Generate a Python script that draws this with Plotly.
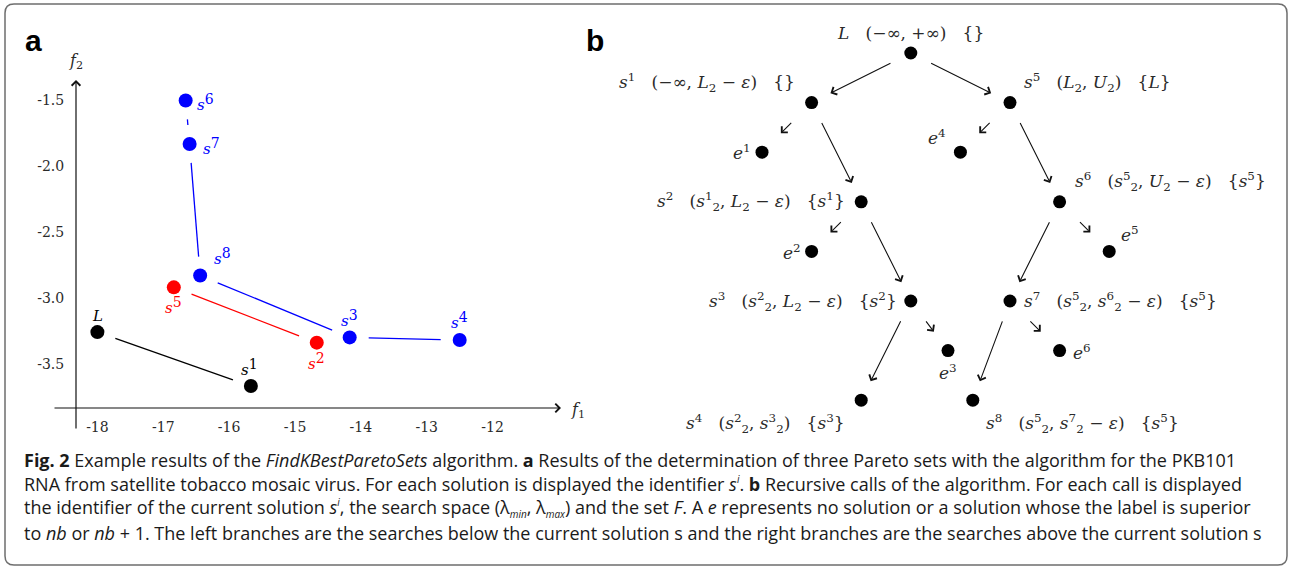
import plotly.graph_objects as go

W, H = 1289, 568

# ---------------- Panel a data ----------------
black_ids = ["L", "1"]
black_f1 = [-18.0, -15.67]
black_f2 = [-3.26, -3.67]
red_ids = ["5", "2"]
red_f1 = [-16.84, -14.67]
red_f2 = [-2.92, -3.34]
blue_ids = ["6", "7", "8", "3", "4"]
blue_f1 = [-16.66, -16.60, -16.44, -14.17, -12.50]
blue_f2 = [-1.50, -1.83, -2.83, -3.30, -3.32]

x_ticks = [-18, -17, -16, -15, -14, -13, -12]
x_tick_text = ["-18", "-17", "-16", "-15", "-14", "-13", "-12"]
y_ticks = [-1.5, -2.0, -2.5, -3.0, -3.5]
y_tick_text = ["-1.5", "-2.0", "-2.5", "-3.0", "-3.5"]

# ---------------- Panel b data (tree) ----------------
tree_ids = ["L", "s1", "s5", "e1", "e4", "s2", "s6", "e2", "e5", "s3", "s7", "e3", "e6", "s4", "s8"]
tree_col = [3, 1, 5, 0, 4, 2, 6, 1, 7, 3, 5, 3.75, 6, 2, 4.25]
tree_row = [0, 1, 1, 2, 2, 3, 3, 4, 4, 5, 5, 6, 6, 7, 7]
tree_edges = [("L", "s1"), ("L", "s5"), ("s1", "e1"), ("s1", "s2"), ("s5", "e4"), ("s5", "s6"),
              ("s2", "e2"), ("s2", "s3"), ("s6", "s7"), ("s6", "e5"), ("s3", "s4"), ("s3", "e3"),
              ("s7", "s8"), ("s7", "e6")]
NB = "\u00a0"
S = NB * 3
tree_text = {
    "L": f"<i>L</i>{S}(−∞,{NB}+∞){S}{{}}",
    "s1": f"<i>s</i><sup>1</sup>{S}(−∞,{NB}<i>L</i><sub>2</sub>{NB}−{NB}<i>ε</i>){S}{{}}",
    "s5": f"<i>s</i><sup>5</sup>{S}(<i>L</i><sub>2</sub>,{NB}<i>U</i><sub>2</sub>){S}{{<i>L</i>}}",
    "e1": "<i>e</i><sup>1</sup>",
    "e4": "<i>e</i><sup>4</sup>",
    "s2": f"<i>s</i><sup>2</sup>{S}(<i>s</i><sup>1</sup><sub>2</sub>,{NB}<i>L</i><sub>2</sub>{NB}−{NB}<i>ε</i>){S}{{<i>s</i><sup>1</sup>}}",
    "s6": f"<i>s</i><sup>6</sup>{S}(<i>s</i><sup>5</sup><sub>2</sub>,{NB}<i>U</i><sub>2</sub>{NB}−{NB}<i>ε</i>){S}{{<i>s</i><sup>5</sup>}}",
    "e2": "<i>e</i><sup>2</sup>",
    "e5": "<i>e</i><sup>5</sup>",
    "s3": f"<i>s</i><sup>3</sup>{S}(<i>s</i><sup>2</sup><sub>2</sub>,{NB}<i>L</i><sub>2</sub>{NB}−{NB}<i>ε</i>){S}{{<i>s</i><sup>2</sup>}}",
    "s7": f"<i>s</i><sup>7</sup>{S}(<i>s</i><sup>5</sup><sub>2</sub>,{NB}<i>s</i><sup>6</sup><sub>2</sub>{NB}−{NB}<i>ε</i>){S}{{<i>s</i><sup>5</sup>}}",
    "e3": "<i>e</i><sup>3</sup>",
    "e6": "<i>e</i><sup>6</sup>",
    "s4": f"<i>s</i><sup>4</sup>{S}(<i>s</i><sup>2</sup><sub>2</sub>,{NB}<i>s</i><sup>3</sup><sub>2</sub>){S}{{<i>s</i><sup>3</sup>}}",
    "s8": f"<i>s</i><sup>8</sup>{S}(<i>s</i><sup>5</sup><sub>2</sub>,{NB}<i>s</i><sup>7</sup><sub>2</sub>{NB}−{NB}<i>ε</i>){S}{{<i>s</i><sup>5</sup>}}",
}

SUPI = "<sup><span style='font-size:10px'><i>i</i></span></sup>"
def small_sub(t):
    return f"<sub><span style='font-size:10px'><i>{t}</i></span></sub>"

caption_lines = [
    "<b>Fig. 2</b> Example results of the <i>FindKBestParetoSets</i> algorithm. <b>a</b> Results of the determination of three Pareto sets with the algorithm for the PKB101",
    f"RNA from satellite tobacco mosaic virus. For each solution is displayed the identifier <i>s</i>{SUPI}. <b>b</b> Recursive calls of the algorithm. For each call is displayed",
    f"the identifier of the current solution <i>s</i>{SUPI}, the search space (λ{small_sub('min')}, λ{small_sub('max')}) and the set <i>F</i>. A <i>e</i> represents no solution or a solution whose the label is superior",
    "to <i>nb</i> or <i>nb</i> + 1. The left branches are the searches below the current solution s and the right branches are the searches above the current solution s",
]

# ---------------- styles / geometry ----------------
SERIF = "DejaVu Serif"
TXT = "#2a2a2a"
BLUE, RED, BLACK = "#0000ff", "#ff0000", "#000000"

# panel a pixel calibration
PX0, PXU = 97.4, 65.87     # px of f1=-18, px per unit
PY0, PYU = 100.5, 131.6    # py of f2=-1.5, px per unit
A_DOM_X = (10, 600)
A_DOM_Y = (20, 445)

def fx(px):
    return -18 + (px - PX0) / PXU

def fy(py):
    return -1.5 - (py - PY0) / PYU

# panel b pixel calibration
BX0, BY0, BU = 762.0, 53.0, 49.6
B_DOM_X = (600, 1285)
B_DOM_Y = (15, 445)

fig = go.Figure()

# --- panel a: connecting lines (shortened near markers) ---
GAP = 19.0
def add_chain(f1, f2, color):
    for i in range(len(f1) - 1):
        x0, y0, x1, y1 = f1[i], f2[i], f1[i + 1], f2[i + 1]
        dxp, dyp = (x1 - x0) * PXU, (y1 - y0) * PYU
        L = (dxp ** 2 + dyp ** 2) ** 0.5
        t0, t1 = GAP / L, 1 - GAP / L
        fig.add_trace(go.Scatter(
            x=[x0 + t0 * (x1 - x0), x0 + t1 * (x1 - x0)],
            y=[y0 + t0 * (y1 - y0), y0 + t1 * (y1 - y0)],
            mode="lines", line=dict(color=color, width=1.3),
            xaxis="x", yaxis="y", hoverinfo="skip", showlegend=False))

add_chain(black_f1, black_f2, BLACK)
add_chain(red_f1, red_f2, RED)
add_chain(blue_f1, blue_f2, BLUE)

for f1, f2, c in [(black_f1, black_f2, BLACK), (red_f1, red_f2, RED), (blue_f1, blue_f2, BLUE)]:
    fig.add_trace(go.Scatter(x=f1, y=f2, mode="markers",
                             marker=dict(color=c, size=14, line=dict(width=0)),
                             xaxis="x", yaxis="y", showlegend=False))

annotations = []

# point labels for panel a
label_place = {
    "L": ("center", 0, 16), "1": ("center", -1, 19),
    "5": ("center", 0, -18), "2": ("center", 0, -19),
    "6": ("left", 9, -2), "7": ("left", 11, -3), "8": ("left", 12, 19),
    "3": ("center", 0, 19), "4": ("center", 0, 20),
}
for ids, f1, f2, c in [(black_ids, black_f1, black_f2, BLACK), (red_ids, red_f1, red_f2, RED),
                       (blue_ids, blue_f1, blue_f2, BLUE)]:
    for k, xv, yv in zip(ids, f1, f2):
        xa, xs, ys = label_place[k]
        if k == "L":
            txt = "<i>L</i>"
        else:
            txt = f"<i>s</i><sup><span style='font-size:14px'>{k}</span></sup>"
        annotations.append(dict(x=xv, y=yv, xref="x", yref="y", text=txt, showarrow=False,
                                xanchor=xa, yanchor="middle", xshift=xs, yshift=ys,
                                font=dict(family=SERIF, size=15, color=c)))

# axis arrows for panel a
annotations.append(dict(x=fx(76), y=fy(80), ax=fx(76), ay=fy(430), xref="x", yref="y",
                        axref="x", ayref="y", text="", showarrow=True, arrowhead=4,
                        arrowsize=1.4, arrowwidth=1.2, arrowcolor="#111"))
annotations.append(dict(x=fx(561), y=fy(408), ax=fx(53), ay=fy(408), xref="x", yref="y",
                        axref="x", ayref="y", text="", showarrow=True, arrowhead=4,
                        arrowsize=1.4, arrowwidth=1.2, arrowcolor="#111"))
annotations.append(dict(x=fx(76), y=fy(62), xref="x", yref="y", showarrow=False,
                        xanchor="center", yanchor="middle",
                        text="<i>f</i><sub>2</sub>", font=dict(family=SERIF, size=16, color=TXT)))
annotations.append(dict(x=fx(578), y=fy(410), xref="x", yref="y", showarrow=False,
                        xanchor="center", yanchor="middle",
                        text="<i>f</i><sub>1</sub>", font=dict(family=SERIF, size=16, color=TXT)))

# --- panel b: tree nodes ---
fig.add_trace(go.Scatter(x=tree_col, y=tree_row, mode="markers",
                         marker=dict(color=BLACK, size=13, line=dict(width=0)),
                         xaxis="x2", yaxis="y2", showlegend=False))

pos = {k: (c, r) for k, c, r in zip(tree_ids, tree_col, tree_row)}
for p, ch in tree_edges:
    (x0, y0), (x1, y1) = pos[p], pos[ch]
    t0, t1 = (0.38, 0.62) if ch.startswith("e") else (0.19, 0.81)
    annotations.append(dict(
        x=x0 + t1 * (x1 - x0), y=y0 + t1 * (y1 - y0),
        ax=x0 + t0 * (x1 - x0), ay=y0 + t0 * (y1 - y0),
        xref="x2", yref="y2", axref="x2", ayref="y2", text="", showarrow=True,
        arrowhead=4, arrowsize=1.5, arrowwidth=1.1, arrowcolor="#111"))

tree_place = {
    "L": ("center", 0, 20), "s1": ("right", -15, 20), "s5": ("left", 12, 20),
    "e1": ("right", -9, 0), "e4": ("right", -12, 15),
    "s2": ("right", -14, 0), "s6": ("left", 13, 20),
    "e2": ("right", -9, -1), "e5": ("left", 10, 17),
    "s3": ("right", -12, 0), "s7": ("left", 12, 0),
    "e3": ("center", 0, -21), "e6": ("left", 11, -1),
    "s4": ("right", -14, -23), "s8": ("left", 11, -23),
}
for k in tree_ids:
    xa, xs, ys = tree_place[k]
    c, r = pos[k]
    annotations.append(dict(x=c, y=r, xref="x2", yref="y2", text=tree_text[k], showarrow=False,
                            xanchor=xa, yanchor="middle", xshift=xs, yshift=ys,
                            font=dict(family=SERIF, size=17, color=TXT)))

# panel letters
for letter, px in [("a", 33), ("b", 595)]:
    annotations.append(dict(x=px / W, y=1 - 40 / H, xref="paper", yref="paper",
                            text=f"<b>{letter}</b>", xanchor="center", yanchor="middle",
                            showarrow=False, font=dict(family="Liberation Sans", size=30, color="#000")))

# caption, one annotation per printed line
for i, line in enumerate(caption_lines):
    annotations.append(dict(x=22 / W, y=1 - (460 + 24.2 * i) / H, xref="paper", yref="paper",
                            text=line, showarrow=False, xanchor="left", yanchor="middle",
                            font=dict(family="Open Sans", size=18, color="#1a1a1a")))

# rounded border
x0b, x1b = 5 / W, 1287 / W
ytb, ybb = 1 - 4 / H, 1 - 565 / H
rx, ry = 9 / W, 9 / H
border = (f"M {x0b+rx},{ytb} L {x1b-rx},{ytb} Q {x1b},{ytb} {x1b},{ytb-ry} L {x1b},{ybb+ry} "
          f"Q {x1b},{ybb} {x1b-rx},{ybb} L {x0b+rx},{ybb} Q {x0b},{ybb} {x0b},{ybb+ry} "
          f"L {x0b},{ytb-ry} Q {x0b},{ytb} {x0b+rx},{ytb} Z")

fig.update_layout(
    width=W, height=H, margin=dict(l=0, r=0, t=0, b=0),
    paper_bgcolor="white", plot_bgcolor="rgba(0,0,0,0)",
    showlegend=False,
    annotations=annotations,
    shapes=[dict(type="path", path=border, xref="paper", yref="paper",
                 line=dict(color="#6e6e6e", width=1.5), layer="below")],
    xaxis=dict(domain=[A_DOM_X[0] / W, A_DOM_X[1] / W], range=[fx(A_DOM_X[0]), fx(A_DOM_X[1])],
               anchor="free", position=1 - 408 / H,
               tickvals=x_ticks, ticktext=x_tick_text, ticks="outside", ticklen=6,
               tickcolor="rgba(0,0,0,0)", showline=False, showgrid=False, zeroline=False,
               tickfont=dict(family=SERIF, size=14, color=TXT), fixedrange=True),
    yaxis=dict(domain=[1 - A_DOM_Y[1] / H, 1 - A_DOM_Y[0] / H], range=[fy(A_DOM_Y[1]), fy(A_DOM_Y[0])],
               anchor="free", position=76 / W,
               tickvals=y_ticks, ticktext=y_tick_text, ticks="outside", ticklen=9,
               tickcolor="rgba(0,0,0,0)", showline=False, showgrid=False, zeroline=False,
               tickfont=dict(family=SERIF, size=14, color=TXT), fixedrange=True),
    xaxis2=dict(domain=[B_DOM_X[0] / W, B_DOM_X[1] / W],
                range=[(B_DOM_X[0] - BX0) / BU, (B_DOM_X[1] - BX0) / BU],
                anchor="y2", visible=False, fixedrange=True),
    yaxis2=dict(domain=[1 - B_DOM_Y[1] / H, 1 - B_DOM_Y[0] / H],
                range=[(B_DOM_Y[1] - BY0) / BU, (B_DOM_Y[0] - BY0) / BU],
                anchor="x2", visible=False, fixedrange=True),
)

fig.write_html("out.html")
